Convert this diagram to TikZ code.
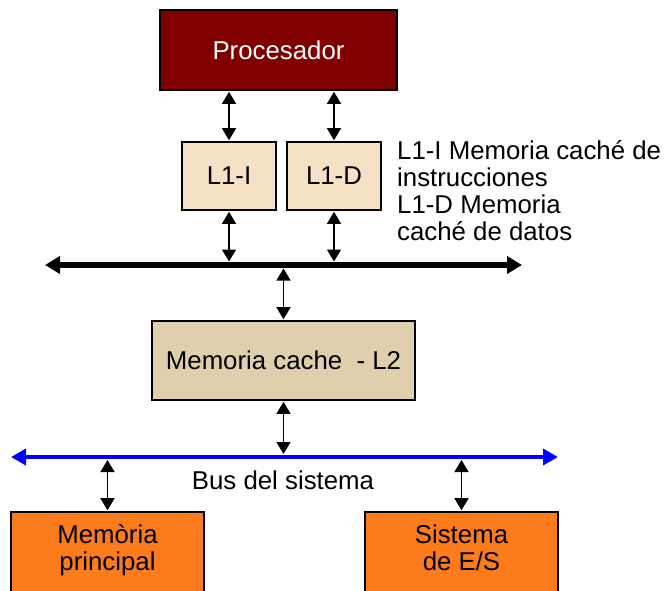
\documentclass[tikz,border=0pt]{standalone}
\usepackage{fontspec}
\setmainfont{Liberation Sans}
\usetikzlibrary{arrows.meta}
\definecolor{procred}{RGB}{128,0,0}
\definecolor{lonefill}{RGB}{245,225,196}
\definecolor{ltwofill}{RGB}{223,207,172}
\definecolor{ioorange}{RGB}{252,123,26}
\definecolor{busblue}{RGB}{0,0,255}
\tikzset{
  txt/.style={font=\fontsize{25.8}{27}\selectfont},
  box/.style={draw=black, line width=1.6pt, inner sep=0pt, align=center, txt},
  procbox/.style={box, fill=procred, text=white,
                  minimum width=237pt, minimum height=80pt},
  lonebox/.style={box, fill=lonefill,
                  minimum width=94pt, minimum height=68pt},
  ltwobox/.style={box, fill=ltwofill,
                  minimum width=263pt, minimum height=79pt},
  iobox/.style={box, fill=ioorange, minimum width=193pt, minimum height=88pt},
  lbl/.style={inner sep=0pt, txt, align=left},
  link/.style={line width=1.4pt, {Triangle[length=12pt,width=14pt]}-{Triangle[length=12pt,width=14pt]},
               shorten <=1pt, shorten >=1pt},
  blackbus/.style={line width=6pt, {Triangle[length=15pt,width=17pt]}-{Triangle[length=15pt,width=17pt]}},
  bluebus/.style={draw=busblue, line width=4.5pt, {Triangle[length=15pt,width=16pt]}-{Triangle[length=15pt,width=16pt]}}
}
\begin{document}
\begin{tikzpicture}[x=1pt,y=-1pt]
\useasboundingbox (0,0) rectangle (664,590);
\clip (0,0) rectangle (664,590);
% boxes
\node[procbox] (proc) at (278.5,50) {Procesador};
\node[lonebox] (l1i) at (229,176) {L1-I};
\node[lonebox] (l1d) at (334,176) {L1-D};
\node[ltwobox] (l2) at (283.5,360.5) {Memoria cache\ \ - L2};
\node[iobox] (mp) at (107.5,556) {};
\node[iobox] (es) at (461.5,556) {};
\node[lbl, align=center, anchor=base] (mptxt) at (107.5,570) {Memòria\\principal};
\node[lbl, align=center, anchor=base] (estxt) at (461.5,570) {Sistema\\de E/S};
% legend
\node[lbl, anchor=base west, font=\fontsize{25.8}{26.7}\selectfont] (legend) at (397,240)
  {L1-I Memoria caché de\\instrucciones\\L1-D Memoria\\caché de datos};
% buses
\coordinate (busL) at (45,265);
\coordinate (busR) at (522,265);
\draw[blackbus] (busL) -- (busR);
\coordinate (sbL) at (11,457);
\coordinate (sbR) at (558,457);
\draw[bluebus] (sbL) -- (sbR);
\node[lbl, anchor=base] (bustxt) at (283,489) {Bus del sistema};
% links
\draw[link] (l1i.north) -- (l1i.north |- proc.south);
\draw[link] (l1d.north) -- (l1d.north |- proc.south);
\draw[link, shorten >=3.5pt] (l1i.south) -- (l1i.south |- busL);
\draw[link, shorten >=3.5pt] (l1d.south) -- (l1d.south |- busL);
\draw[link, shorten >=3.5pt] (l2.north) -- (l2.north |- busL);
\draw[link, shorten >=3pt] (l2.south) -- (l2.south |- sbL);
\draw[link, shorten >=3pt] (mp.north) -- (mp.north |- sbL);
\draw[link, shorten >=3pt] (es.north) -- (es.north |- sbL);
\end{tikzpicture}
\end{document}
